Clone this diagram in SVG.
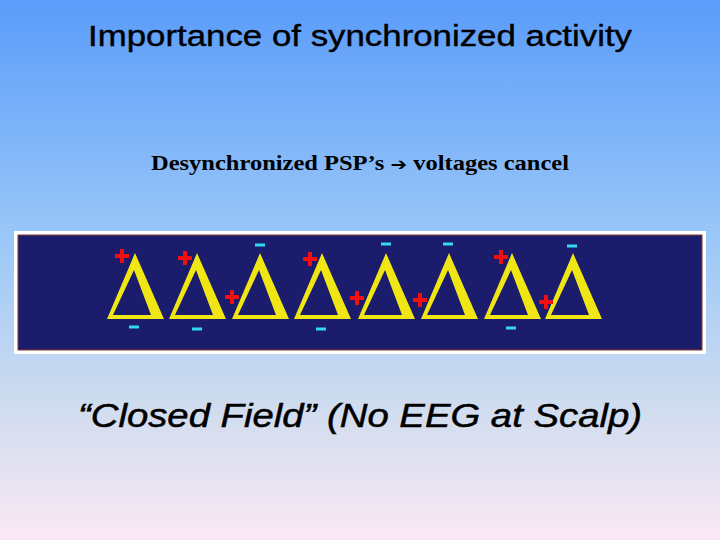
<svg xmlns="http://www.w3.org/2000/svg" width="720" height="540" viewBox="0 0 720 540">
<defs>
<linearGradient id="bg" x1="0" y1="0" x2="0" y2="1">
<stop offset="0" stop-color="#5a9cfa"/><stop offset="0.45" stop-color="#9cc8f8"/><stop offset="0.75" stop-color="#cfdcef"/><stop offset="1" stop-color="#fbe8f4"/>
</linearGradient>
<path id="d" d="M0,0 L29,66 L-28,66 Z M-1,17 L-22,62 L16,62 Z" fill="#f0e614" fill-rule="evenodd"/>
<path id="p" d="M-7,0 H7 M0,-7 V7" stroke="#f01010" stroke-width="4"/>
<rect id="m" x="-5" y="-1.5" width="10" height="3" fill="#30d8f0"/>
</defs>
<style>text{font-family:"Liberation Sans",Arial,sans-serif;fill:#000}</style>
<rect width="720" height="540" fill="url(#bg)"/>
<text x="360" y="46" font-size="29" text-anchor="middle" textLength="544" lengthAdjust="spacingAndGlyphs" stroke="#000" stroke-width="0.4">Importance of synchronized activity</text>
<text x="360" y="170" font-size="21" font-weight="bold" text-anchor="middle" style="font-family:'Liberation Serif',serif" textLength="418" lengthAdjust="spacingAndGlyphs">Desynchronized PSP’s <tspan font-family="DejaVu Sans" font-size="17">➔</tspan> voltages cancel</text>
<g id="panel">
<rect x="14" y="231" width="692" height="123" fill="#fff"/>
<rect x="18" y="235" width="684" height="115" fill="#1c1c6c" stroke="#8a3a2a" stroke-width="1"/>
<use href="#d" x="135" y="253"/><use href="#d" x="197" y="253"/><use href="#d" x="260" y="253"/><use href="#d" x="322" y="253"/>
<use href="#d" x="386" y="253"/><use href="#d" x="449" y="253"/><use href="#d" x="512" y="253"/><use href="#d" x="573" y="253"/>
<use href="#p" x="122" y="256"/><use href="#p" x="185" y="258"/><use href="#p" x="232" y="297"/><use href="#p" x="310" y="259"/>
<use href="#p" x="357" y="298"/><use href="#p" x="420" y="300"/><use href="#p" x="501" y="257"/><use href="#p" x="546" y="302"/>
<use href="#m" x="134" y="327"/><use href="#m" x="197" y="329"/><use href="#m" x="260" y="245"/><use href="#m" x="321" y="329"/>
<use href="#m" x="386" y="244"/><use href="#m" x="448" y="244"/><use href="#m" x="511" y="328"/><use href="#m" x="572" y="246"/>
</g>
<text x="360" y="427" font-size="33" font-style="italic" text-anchor="middle" textLength="564" lengthAdjust="spacingAndGlyphs" stroke="#000" stroke-width="0.5">“Closed Field” (No EEG at Scalp)</text>
</svg>
